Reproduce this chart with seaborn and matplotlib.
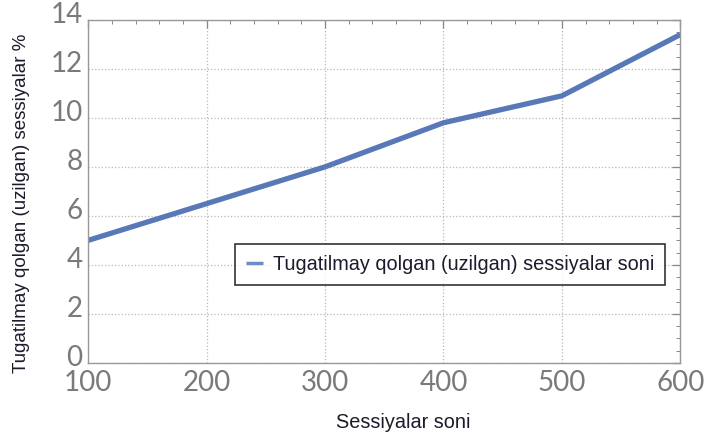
import numpy as np
import pandas as pd
import matplotlib
matplotlib.use("Agg")
import matplotlib.pyplot as plt
import matplotlib.transforms as mtransforms
import seaborn as sns
from matplotlib.ticker import MultipleLocator

# Data
sessions = [100, 200, 300, 400, 500, 600]
dropped_pct = [5.0, 6.5, 8.0, 9.8, 10.9, 13.4]
series_name = "Tugatilmay qolgan (uzilgan) sessiyalar soni"

df = pd.DataFrame({"sessions": sessions, "pct": dropped_pct, "series": series_name})

sns.set_style("white")
plt.rcParams['font.family'] = ['Liberation Sans', 'DejaVu Sans']

fig = plt.figure(figsize=(7.05, 4.32), dpi=100)
ax = fig.add_axes([0.125, 0.16, 0.84, 0.794])

sns.lineplot(data=df, x="sessions", y="pct", hue="series", palette=["#5878b8"],
             linewidth=3.8, ax=ax, solid_capstyle="butt")

ax.set_xlim(100, 600)
ax.set_ylim(0, 14)
ax.xaxis.set_major_locator(MultipleLocator(100))
ax.xaxis.set_minor_locator(MultipleLocator(20))
ax.yaxis.set_major_locator(MultipleLocator(2))
ax.yaxis.set_minor_locator(MultipleLocator(0.5))
ax.grid(True, which="major", linestyle=":", color="#b8b8b8", linewidth=0.9)

for s in ax.spines.values():
    s.set_color("#999999")
    s.set_linewidth(1.0)

ax.tick_params(which="both", direction="in", top=True, right=True, color="#888888")
ax.tick_params(which="major", length=6, width=0.9)
ax.tick_params(which="minor", length=3, width=0.7)
ax.tick_params(axis="both", which="major", labelsize=20, labelcolor="#7a7a7a")
ax.tick_params(axis="x", which="major", pad=5)
ax.tick_params(axis="y", which="major", pad=4)

# y tick labels sit a little above their ticks in the original
shift = mtransforms.ScaledTranslation(0, 7 / 100, fig.dpi_scale_trans)
for lab in ax.get_yticklabels():
    lab.set_transform(lab.get_transform() + shift)
for lab in ax.get_xticklabels() + ax.get_yticklabels():
    lab.set_family(['Lato', 'DejaVu Sans'])
    lab.set_fontweight("normal")

ax.set_xlabel("Sessiyalar soni", fontsize=14.3, color="#1b1b2b")
ax.set_ylabel("Tugatilmay qolgan (uzilgan) sessiyalar %", fontsize=13.5, color="#1b1b2b")
ax.xaxis.set_label_coords(0.532, -0.175)
ax.xaxis.label.set_va("center")
ax.yaxis.set_label_coords(-0.113, 0.466)
ax.yaxis.label.set_va("center")

leg = ax.legend(loc="center", bbox_to_anchor=(0.611, 0.286), fontsize=14.3,
                frameon=True, fancybox=False, handlelength=0.85, borderpad=0.55,
                handletextpad=0.5, borderaxespad=0)
leg.get_frame().set_edgecolor("black")
leg.get_frame().set_linewidth(1.2)
for line in leg.get_lines():
    line.set_linewidth(2.5)
    line.set_color("#6c8cc4")
for t in leg.get_texts():
    t.set_color("#1b1b2b")

fig.savefig("out.png", dpi=100)
